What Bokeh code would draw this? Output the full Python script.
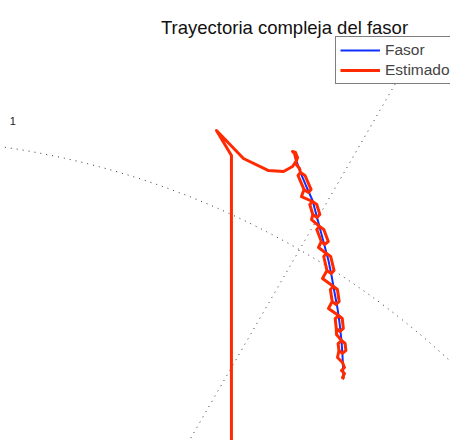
import numpy as np
from bokeh.plotting import figure
from bokeh.models import Range1d, Legend, LegendItem, Label
from bokeh.core.properties import value
from bokeh.embed import file_html
from bokeh.resources import INLINE

title_text = "Trayectoria compleja del fasor"
series_names = ["Fasor", "Estimado"]

# True phasor trajectory (real, imaginary)
fasor_re = [0.4940, 0.5012, 0.5072, 0.5157, 0.5205, 0.5253, 0.5301, 0.5349,
            0.5386, 0.5422, 0.5458, 0.5482, 0.5506, 0.5518, 0.5530]
fasor_im = [0.9795, 0.9590, 0.9446, 0.9253, 0.9072, 0.8892, 0.8711, 0.8530,
            0.8349, 0.8145, 0.7952, 0.7783, 0.7566, 0.7386, 0.7120]

# Estimated phasor trajectory (real, imaginary)
est_re = [0.418, 0.418, 0.400, 0.4325, 0.4627, 0.4807, 0.4916, 0.4964, 0.4940, 0.4916,
          0.4952, 0.4976, 0.4952, 0.5000,
          0.5012, 0.4982, 0.5054, 0.5108, 0.5139, 0.5066, 0.5012, 0.4982, 0.5054, 0.5024,
          0.5157, 0.5124, 0.5160, 0.5211, 0.5245, 0.5208, 0.5157, 0.5124, 0.5160, 0.5145,
          0.5241, 0.5208, 0.5263, 0.5301, 0.5347, 0.5293, 0.5241, 0.5208, 0.5263, 0.5229,
          0.5325, 0.5292, 0.5331, 0.5382, 0.5416, 0.5376, 0.5325, 0.5292, 0.5331, 0.5277,
          0.5410, 0.5372, 0.5394, 0.5441, 0.5478, 0.5457, 0.5410, 0.5372, 0.5394, 0.5349,
          0.5470, 0.5430, 0.5443, 0.5488, 0.5528, 0.5515, 0.5470, 0.5430, 0.5443, 0.5446,
          0.5506, 0.5465, 0.5475, 0.5518, 0.5559, 0.5549, 0.5506, 0.5465, 0.5475, 0.5458,
          0.5518, 0.5542, 0.5506, 0.5542, 0.5518, 0.5542]
est_im = [0.500, 0.9795, 1.0096, 0.9759, 0.9614, 0.9602, 0.9663, 0.9735, 0.9819, 0.9843,
          0.9831, 0.9771, 0.9699, 0.9639,
          0.9590, 0.9554, 0.9386, 0.9349, 0.9386, 0.9554, 0.9590, 0.9554, 0.9386, 0.9301,
          0.9241, 0.9205, 0.9084, 0.9048, 0.9084, 0.9205, 0.9241, 0.9205, 0.9084, 0.9024,
          0.8940, 0.8904, 0.8759, 0.8723, 0.8759, 0.8904, 0.8940, 0.8904, 0.8759, 0.8687,
          0.8614, 0.8578, 0.8410, 0.8373, 0.8410, 0.8578, 0.8614, 0.8578, 0.8410, 0.8313,
          0.8217, 0.8181, 0.8036, 0.8000, 0.8036, 0.8181, 0.8217, 0.8181, 0.8036, 0.7952,
          0.7867, 0.7831, 0.7711, 0.7675, 0.7711, 0.7831, 0.7867, 0.7831, 0.7711, 0.7639,
          0.7566, 0.7530, 0.7446, 0.7410, 0.7446, 0.7530, 0.7566, 0.7530, 0.7446, 0.7361,
          0.7301, 0.7241, 0.7205, 0.7169, 0.7120, 0.7108]

# Polar grid
r_circles = [0.5, 1.0]
r_max = 1.25
spoke_angles_deg = [0, 30, 60, 90, 120, 150]
r_tick_labels = ["1"]
r_tick_values = [1.0]
label_angle_deg = 81.4
label_offset = 1.033

W, H = 450, 440
p = figure(width=W, height=H, output_backend="svg", toolbar_location=None,
           x_axis_location=None, y_axis_location=None,
           x_range=Range1d(0.139759, 0.681928), y_range=Range1d(0.636145, 1.166265),
           min_border=0, title=None)
p.grid.visible = False
p.outline_line_color = None
p.background_fill_color = "white"
p.border_fill_color = "white"

grid_color = "#333333"
th = np.linspace(0, 2 * np.pi, 721)
for rc in r_circles:
    p.line(rc * np.cos(th), rc * np.sin(th), line_color=grid_color,
           line_width=1, line_dash="1 5")
for a in spoke_angles_deg:
    ar = np.deg2rad(a)
    p.line([-r_max * np.cos(ar), r_max * np.cos(ar)],
           [-r_max * np.sin(ar), r_max * np.sin(ar)],
           line_color=grid_color, line_width=1, line_dash="1 5")

la = np.deg2rad(label_angle_deg)
p.text(x=[v * label_offset * np.cos(la) for v in r_tick_values],
       y=[v * label_offset * np.sin(la) for v in r_tick_values],
       text=r_tick_labels, text_font=value("Liberation Sans"), text_font_size="11px",
       text_align="center", text_baseline="alphabetic", text_color="#222222")

rb = p.line(fasor_re, fasor_im, line_color="#1030ff", line_width=2)
rr = p.line(est_re, est_im, line_color="#ff2a00", line_width=3,
            line_join="round")

legend = Legend(items=[LegendItem(label=series_names[0], renderers=[rb]),
                       LegendItem(label=series_names[1], renderers=[rr])],
                location=(335, 356), margin=0, padding=4, spacing=2,
                glyph_height=16, label_height=16, glyph_width=40,
                label_standoff=5, border_line_color="black",
                border_line_width=1, background_fill_alpha=1,
                label_text_font="Liberation Sans", label_text_font_size="15.5px")
p.add_layout(legend)

p.add_layout(Label(x=284, y=413, x_units="screen", y_units="screen",
                   text=title_text, text_align="center", text_baseline="alphabetic",
                   text_font="Liberation Sans", text_font_size="18.5px",
                   text_color="#111111"))

open("out.html", "w").write(file_html(p, INLINE))
